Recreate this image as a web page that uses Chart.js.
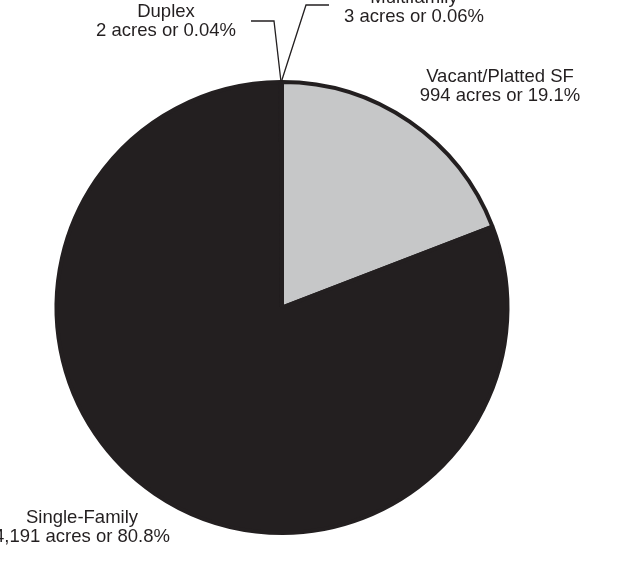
<!DOCTYPE html>
<html lang="en">

<head>
    <meta charset="UTF-8">
    <title>Residential Land Use</title>
    <script src="https://cdn.jsdelivr.net/npm/chart.js"></script>
    <style>
        body { margin: 0; background: #ffffff; }
    </style>
</head>

<body>
    <canvas id="landChart" width="618" height="578"></canvas>

    <script>
        // slices, clockwise from 12 o'clock
        const categories = ['Vacant/Platted SF', 'Single-Family', 'Duplex', 'Multifamily'];
        const acres = [994, 4191, 2, 3];
        const labelLines = [
            ['Vacant/Platted SF', '994 acres or 19.1%'],
            ['Single-Family', '4,191 acres or 80.8%'],
            ['Duplex', '2 acres or 0.04%'],
            ['Multifamily', '3 acres or 0.06%']
        ];
        const sliceColors = ['#c6c7c8', '#231f20', '#231f20', '#231f20'];

        // where each label sits (centre x, first baseline) and its leader elbow
        const labelPlace = [
            { x: 500, y: 82 },
            { x: 82, y: 523 },
            { x: 166, y: 17, elbow: [274, 21], end: [251, 21] },
            { x: 414, y: 3, elbow: [306, 5], end: [329, 5] }
        ];

        const pieLabels = {
            id: 'pieLabels',
            afterDraw(chart) {
                const ctx = chart.ctx;
                const arcs = chart.getDatasetMeta(0).data;
                ctx.save();
                ctx.font = '18.5px "Liberation Sans", Arial, sans-serif';
                ctx.fillStyle = '#231f20';
                ctx.textAlign = 'center';
                ctx.textBaseline = 'alphabetic';
                labelLines.forEach((lines, i) => {
                    const p = labelPlace[i];
                    lines.forEach((t, j) => ctx.fillText(t, p.x, p.y + j * 18.5));
                    if (p.elbow) {
                        const a = arcs[i];
                        const mid = (a.startAngle + a.endAngle) / 2;
                        const r = a.outerRadius + 1;
                        ctx.beginPath();
                        ctx.moveTo(a.x + Math.cos(mid) * r, a.y + Math.sin(mid) * r);
                        ctx.lineTo(p.elbow[0], p.elbow[1]);
                        ctx.lineTo(p.end[0], p.end[1]);
                        ctx.strokeStyle = '#231f20';
                        ctx.lineWidth = 1.3;
                        ctx.stroke();
                    }
                });
                ctx.restore();
            }
        };

        new Chart(document.getElementById('landChart').getContext('2d'), {
            type: 'pie',
            data: {
                labels: categories,
                datasets: [{
                    data: acres,
                    backgroundColor: sliceColors,
                    borderColor: '#231f20',
                    borderWidth: 4
                }]
            },
            options: {
                responsive: false,
                animation: false,
                layout: { padding: { left: 54, top: 80, right: 108, bottom: 43 } },
                plugins: {
                    legend: { display: false },
                    tooltip: { enabled: false }
                }
            },
            plugins: [pieLabels]
        });
    </script>
</body>

</html>
